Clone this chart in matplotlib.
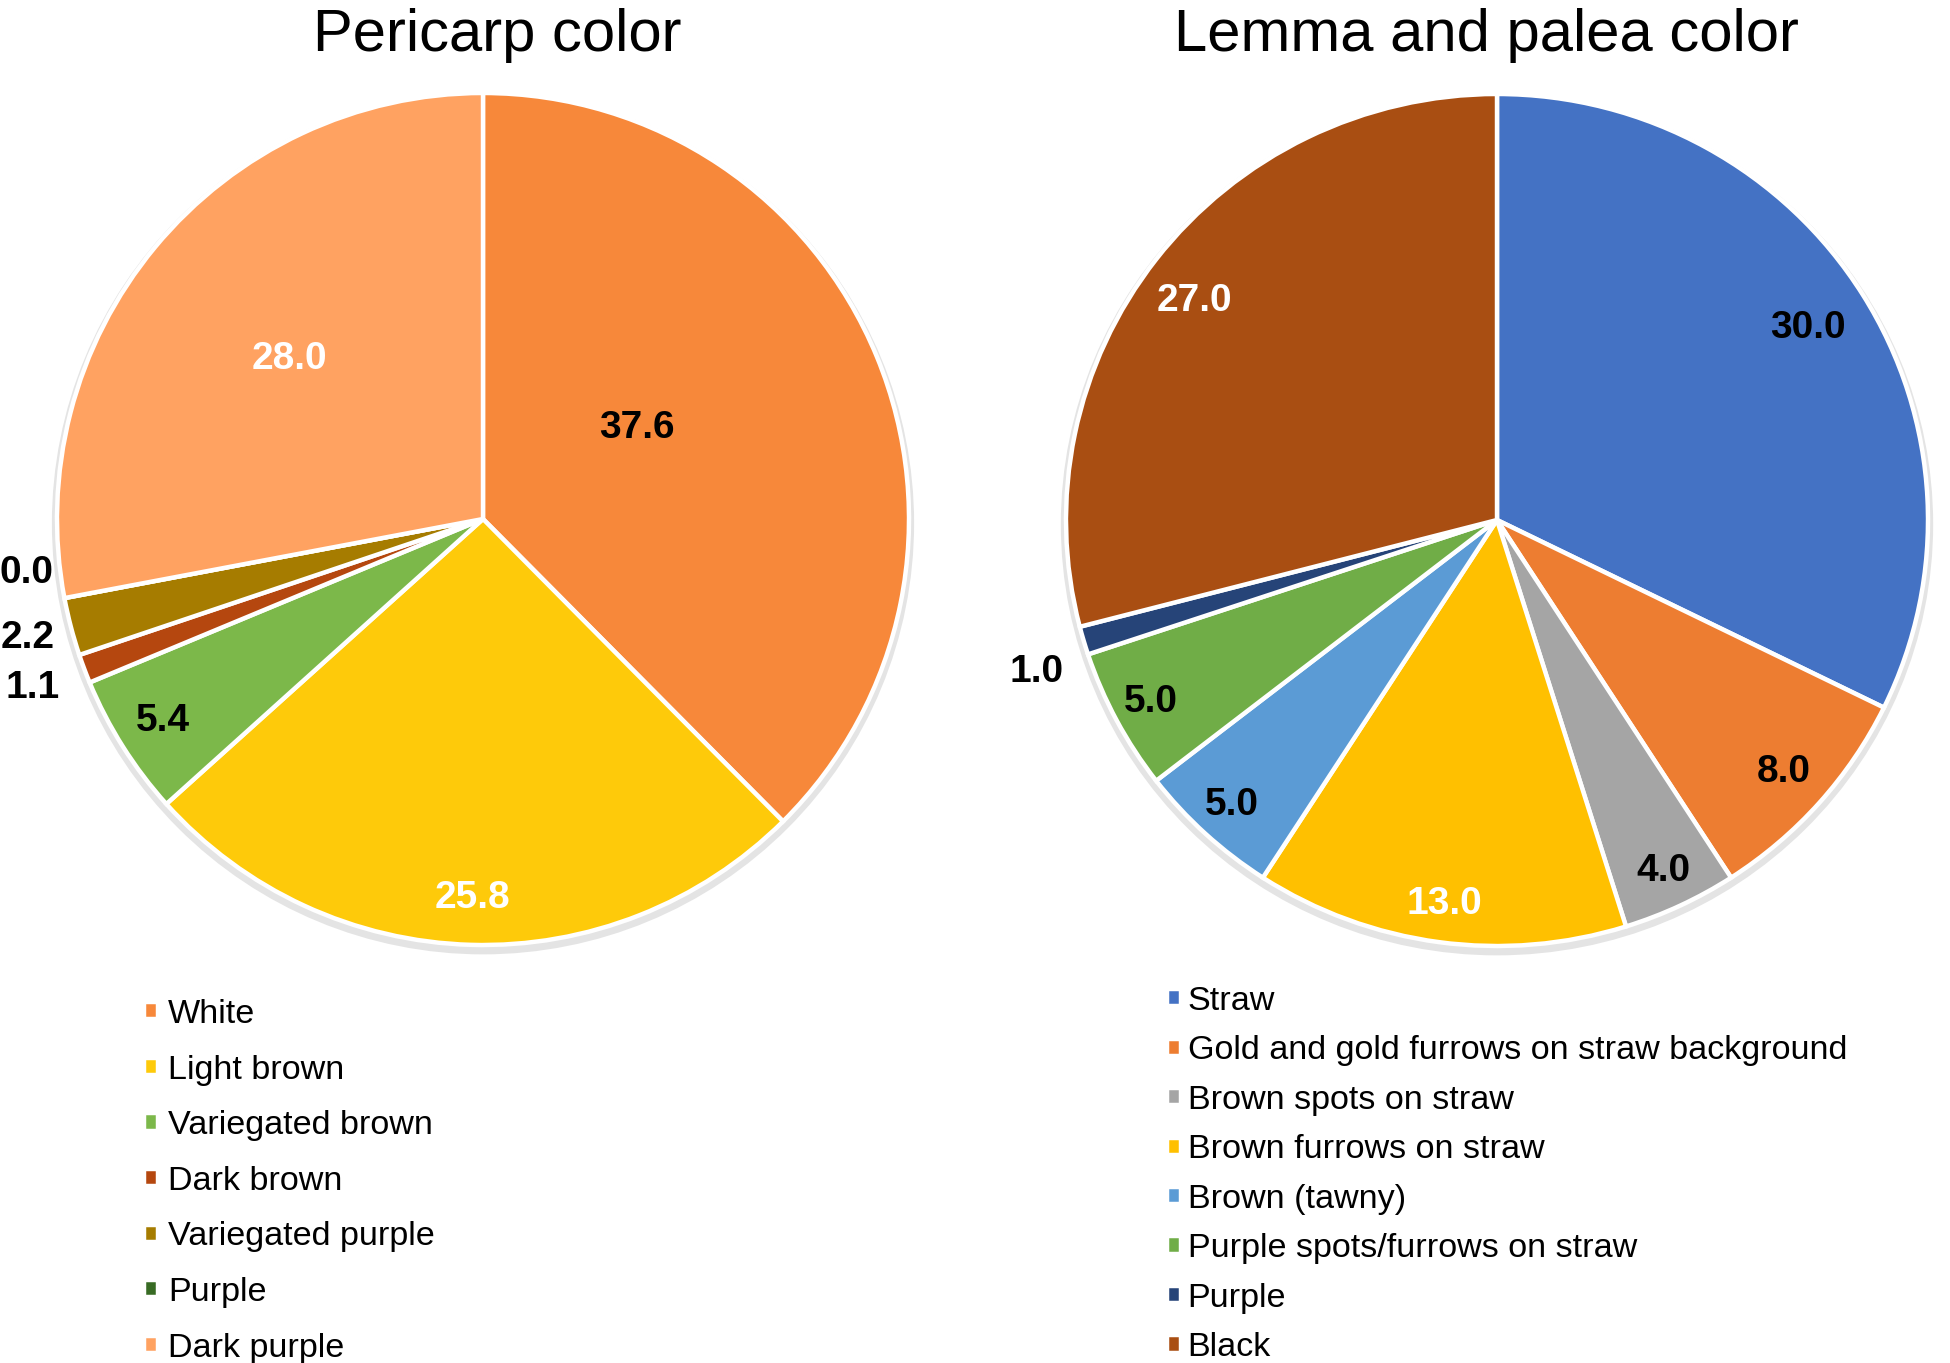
import matplotlib
matplotlib.use("Agg")
import matplotlib.pyplot as plt
import numpy as np
from matplotlib.patches import Ellipse

plt.rcParams['font.family'] = ['Liberation Sans', 'DejaVu Sans']

# ---------------- data ----------------
peri_title = "Pericarp color"
peri_cats = ["White", "Light brown", "Variegated brown", "Dark brown",
             "Variegated purple", "Purple", "Dark purple"]
peri_vals = [37.6, 25.8, 5.4, 1.1, 2.2, 0.0, 28.0]

lemma_title = "Lemma and palea color"
lemma_cats = ["Straw", "Gold and gold furrows on straw background",
              "Brown spots on straw", "Brown furrows on straw", "Brown (tawny)",
              "Purple spots/furrows on straw", "Purple", "Black"]
lemma_vals = [30.0, 8.0, 4.0, 13.0, 5.0, 5.0, 1.0, 27.0]

# ---------------- styles ----------------
peri_colors = ["#F7883A", "#FECA0A", "#7CB84A", "#B5470F", "#A67C00", "#386B24", "#FFA261"]
peri_lab_col = ["black", "white", "black", "black", "black", "black", "white"]
peri_lab_r = [0.42, 0.89, 0.89, 1.13, 1.105, 1.08, 0.59]
peri_lab_da = [8, 0, 0, 0, 0, -4, 0]

lemma_colors = ["#4472C4", "#ED7D31", "#A5A5A5", "#FFC000", "#5B9BD5", "#70AD47", "#264478", "#A94E12"]
lemma_lab_col = ["black", "black", "black", "white", "black", "black", "black", "white"]
lemma_lab_r = [0.85, 0.89, 0.91, 0.91, 0.91, 0.91, 1.125, 0.87]
lemma_lab_da = [0, 0, 0, 0, 0, 0, 2, 1.5]

W, H = 1950, 1363
fig = plt.figure(figsize=(W / 100, H / 100), dpi=100)
PAD = 1.05


def pie_axes(cx, cy, rx, ry):
    rx *= PAD
    ry *= PAD
    return fig.add_axes([(cx - rx) / W, (H - cy - ry) / H, 2 * rx / W, 2 * ry / H])


def draw_pie(ax, vals, colors, lab_col, lab_r, lab_da):
    ax.add_patch(Ellipse((0.0, -0.01), 2.024, 2.024, color="#e4e4e4", zorder=0, lw=0))
    wedges, _ = ax.pie(vals, colors=colors, startangle=90, counterclock=False,
                       radius=1.0, wedgeprops=dict(edgecolor="white", linewidth=3.2))
    for w, v, c, r, da in zip(wedges, vals, lab_col, lab_r, lab_da):
        ang = np.deg2rad((w.theta1 + w.theta2) / 2 + da)
        ax.text(r * np.cos(ang), r * np.sin(ang), f"{v:.1f}", ha="center", va="center",
                fontsize=28, fontweight="bold", color=c)
    ax.set_xlim(-PAD, PAD)
    ax.set_ylim(-PAD, PAD)
    ax.set_aspect("auto")
    ax.axis("off")
    return wedges


ax1 = pie_axes(483, 519, 426, 426)
w1 = draw_pie(ax1, peri_vals, peri_colors, peri_lab_col, peri_lab_r, peri_lab_da)
ax2 = pie_axes(1497, 520, 431, 426)
w2 = draw_pie(ax2, lemma_vals, lemma_colors, lemma_lab_col, lemma_lab_r, lemma_lab_da)

fig.text(497 / W, 1 - 51 / H, peri_title, ha="center", va="baseline", fontsize=43)
fig.text(1486 / W, 1 - 51 / H, lemma_title, ha="center", va="baseline", fontsize=43)

fig.legend(w1, peri_cats, loc="upper left", bbox_to_anchor=(144 / W, 1 - 999 / H),
           frameon=False, fontsize=24.6, handlelength=0.4, handleheight=0.4,
           handletextpad=0.3, labelspacing=0.72, borderpad=0, borderaxespad=0)
fig.legend(w2, lemma_cats, loc="upper left", bbox_to_anchor=(1167 / W, 1 - 986 / H),
           frameon=False, fontsize=24.6, handlelength=0.4, handleheight=0.4,
           handletextpad=0.2, labelspacing=0.54, borderpad=0, borderaxespad=0)

fig.savefig("out.png", dpi=100, facecolor="white")
